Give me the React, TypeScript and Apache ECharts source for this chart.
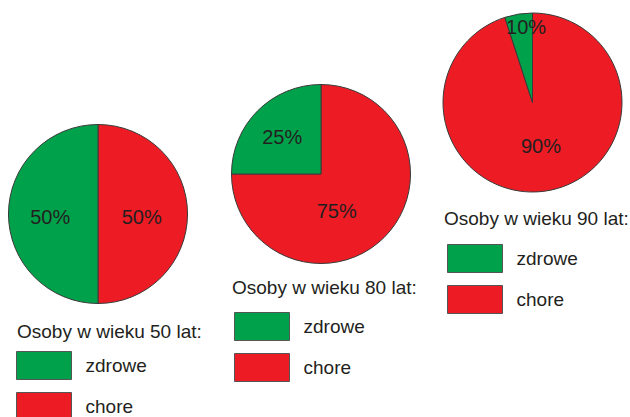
import React, { useEffect, useRef } from "react";
import * as echarts from "echarts";

const categories = ["chore", "zdrowe"];
const legendOrder = ["zdrowe", "chore"];
const titles = ["Osoby w wieku 50 lat:", "Osoby w wieku 80 lat:", "Osoby w wieku 90 lat:"];
// slice sizes as drawn in the picture
const values50 = [50, 50];
const values80 = [75, 25];
const values90 = [95, 5];
// printed percentage labels
const labels50 = ["50%", "50%"];
const labels80 = ["75%", "25%"];
const labels90 = ["90%", "10%"];

const RED = "#ed1c24";
const GREEN = "#00a14b";
const TEXT = "#231f20";
const FONT = "'Liberation Sans', Arial, Helvetica, sans-serif";

export default function App() {
  const ref = useRef<HTMLDivElement>(null);
  useEffect(() => {
    const chart = echarts.init(ref.current!, undefined, { renderer: "svg" });
    const pies = [
      { values: values50, labels: labels50, center: [98, 214], offsets: [[-4, 3], [0, 3]] },
      { values: values80, labels: labels80, center: [321, 174], offsets: [[-18, 3], [-5, -3]] },
      { values: values90, labels: labels90, center: [532.5, 102.5], offsets: [[1, -4], [1, -28]] },
    ];
    const titlePos = [
      [17, 322],
      [232, 278],
      [444, 209],
    ];
    const legendPos = [
      [16, 351],
      [234, 312],
      [447, 244],
    ];
    const colorOf = (name: string) => (name === "chore" ? RED : GREEN);
    chart.setOption({
      animation: false,
      title: titles.map((t, i) => ({
        text: t,
        left: titlePos[i][0],
        top: titlePos[i][1],
        padding: 0,
        textStyle: { fontSize: 19, fontWeight: "normal", color: TEXT, fontFamily: FONT },
      })),
      legend: legendPos.map((p) => ({
        data: legendOrder,
        orient: "vertical",
        left: p[0],
        top: p[1],
        height: 90,
        padding: 0,
        icon: "rect",
        itemWidth: 55,
        itemHeight: 28,
        itemGap: 12,
        selectedMode: false,
        itemStyle: { borderColor: "#555", borderWidth: 1 },
        textStyle: {
          fontSize: 19,
          color: TEXT,
          fontFamily: FONT,
          padding: [0, 0, 0, 9],
        },
      })),
      series: pies.map((p) => ({
        type: "pie",
        center: p.center,
        radius: 89.5,
        startAngle: 90,
        clockwise: true,
        avoidLabelOverlap: false,
        silent: true,
        itemStyle: { borderColor: "#3a3a3a", borderWidth: 1 },
        label: {
          show: true,
          position: "inside",
          fontSize: 20,
          color: TEXT,
          fontFamily: FONT,
        },
        labelLine: { show: false },
        data: categories.map((c, j) => ({
          name: c,
          value: p.values[j],
          itemStyle: { color: colorOf(c) },
          label: { formatter: p.labels[j], offset: p.offsets[j] },
        })),
      })),
    });
    return () => chart.dispose();
  }, []);
  return (
    <div
      ref={ref}
      style={{ position: "fixed", left: 0, top: 0, width: 630, height: 417, background: "#fff" }}
    />
  );
}
